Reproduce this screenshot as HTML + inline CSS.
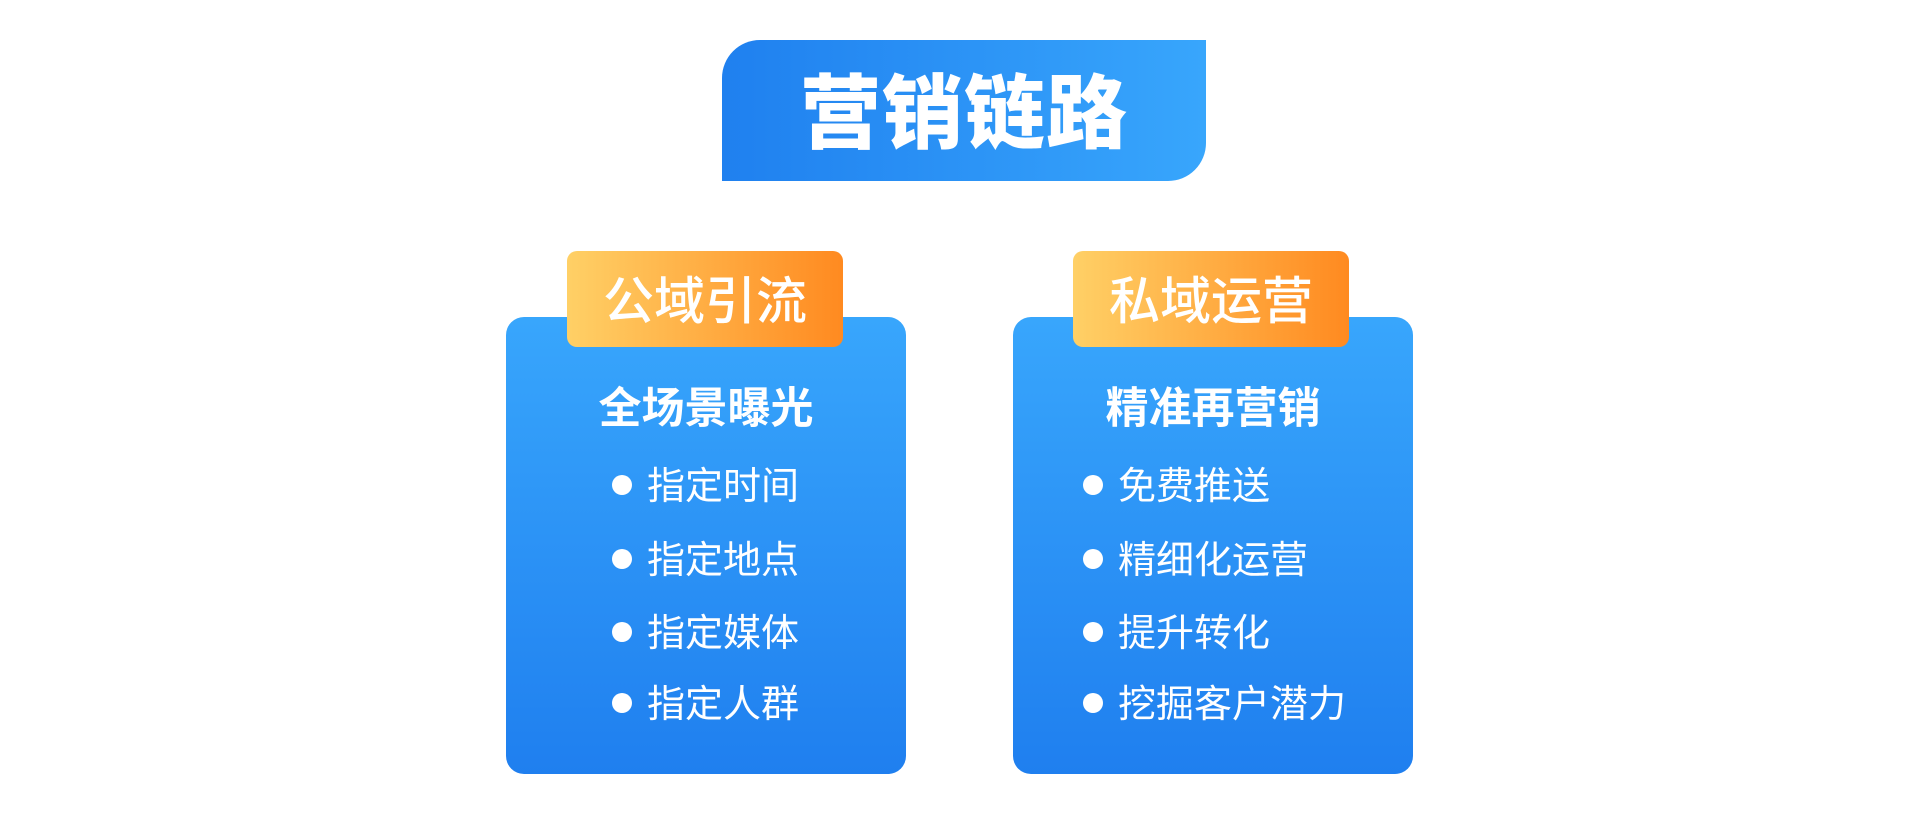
<!DOCTYPE html>
<html><head><meta charset="utf-8"><style>
html,body{margin:0;padding:0;width:1920px;height:814px;background:#fff;overflow:hidden;font-family:"Liberation Sans","Noto Sans CJK SC",sans-serif;}
.abs{position:absolute}
.title{left:722px;top:40px;width:484px;height:141px;border-radius:38px 0 38px 0;background:linear-gradient(90deg,#1f80ef,#38a6fc);color:#fff;font-size:81px;font-weight:900;text-align:center;line-height:151px;letter-spacing:1px}
.card{top:317px;width:400px;height:457px;border-radius:18px;background:linear-gradient(180deg,#38a6fc,#1f7fef)}
.tag{top:251px;width:276px;height:96px;border-radius:10px;background:linear-gradient(90deg,#ffd066,#ff8a20);color:#fff;font-size:51px;font-weight:500;text-align:center;line-height:102px}
.h{top:381px;width:400px;text-align:center;color:#fff;font-size:43px;font-weight:700;line-height:56px}
.row{color:#fff;font-size:38px;line-height:50px;height:50px}
.dot{width:20px;height:20px;border-radius:50%;background:#fff;position:absolute}
</style></head><body>
<div class="abs title">营销链路</div>
<div class="abs card" style="left:506px"></div>
<div class="abs card" style="left:1013px"></div>
<div class="abs tag" style="left:567px">公域引流</div>
<div class="abs tag" style="left:1073px">私域运营</div>
<div class="abs h" style="left:506px">全场景曝光</div>
<div class="abs h" style="left:1013px">精准再营销</div>

<div class="dot" style="left:612px;top:475px"></div><div class="abs row" style="left:647px;top:462px">指定时间</div>
<div class="dot" style="left:612px;top:549px"></div><div class="abs row" style="left:647px;top:536px">指定地点</div>
<div class="dot" style="left:612px;top:622px"></div><div class="abs row" style="left:647px;top:609px">指定媒体</div>
<div class="dot" style="left:612px;top:693px"></div><div class="abs row" style="left:647px;top:680px">指定人群</div>

<div class="dot" style="left:1083px;top:475px"></div><div class="abs row" style="left:1118px;top:462px">免费推送</div>
<div class="dot" style="left:1083px;top:549px"></div><div class="abs row" style="left:1118px;top:536px">精细化运营</div>
<div class="dot" style="left:1083px;top:622px"></div><div class="abs row" style="left:1118px;top:609px">提升转化</div>
<div class="dot" style="left:1083px;top:693px"></div><div class="abs row" style="left:1118px;top:680px">挖掘客户潜力</div>
</body></html>
